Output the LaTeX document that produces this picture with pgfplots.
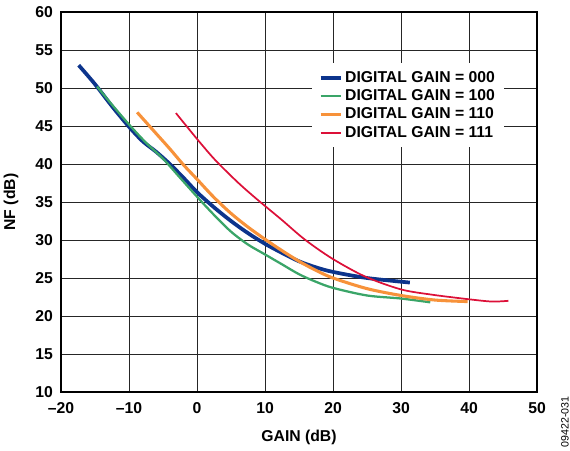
\documentclass[border=0pt]{standalone}
\usepackage{pgfplots}
\pgfplotsset{compat=1.18}
\usepackage{fontspec}
\setmainfont{Liberation Sans}

\definecolor{gnavy}{RGB}{12,52,140}
\definecolor{ggreen}{RGB}{58,165,104}
\definecolor{gorange}{RGB}{247,146,58}
\definecolor{gred}{RGB}{220,16,56}

\newcommand{\lblfont}{\bfseries\fontsize{11.8}{14}\selectfont}

\begin{document}
\begin{tikzpicture}
\useasboundingbox (-45.75pt,-43.5pt) rectangle (381.75pt,294pt);
\begin{axis}[
    scale only axis,
    width=357pt, height=285pt,
    xmin=-20, xmax=50, ymin=10, ymax=60,
    xtick={-20,-10,0,10,20,30,40,50},
    xticklabels={\textendash20,\textendash10,0,10,20,30,40,50},
    ytick={10,15,20,25,30,35,40,45,50,55,60},
    grid=major,
    major grid style={black!85, line width=0.75pt},
    axis line style={line width=1.4pt},
    major tick length=0pt,
    /pgf/number format/assume math mode=true,
    tick label style={font=\lblfont},
    xticklabel style={yshift=-4.3pt},
    yticklabel style={xshift=-2.5pt},
    xlabel={GAIN (dB)},
    ylabel={NF (dB)},
    label style={font=\lblfont},
    xlabel style={at={(axis description cs:0.5,0)}, anchor=center, yshift=-33.75pt},
    ylabel style={at={(axis description cs:0,0.5)}, anchor=center, yshift=37.5pt},
    legend style={at={(0.527,0.866)}, anchor=north west, draw=none, fill=white,
        font=\lblfont, inner xsep=5pt, inner ysep=4pt, row sep=0pt},
    legend cell align=left,
    legend image code/.code={\draw[#1] (0pt,0pt) -- (15pt,0pt);},
]
\addplot[gnavy, line width=2.8pt, smooth, tension=0.5] coordinates {
    (-17.4,53.0) (-15,50.5) (-12.5,47.6) (-10,44.9) (-8,43.0)
    (-6,41.6) (-4,40.0) (-2,38.2) (0,36.3) (2.5,34.3)
    (5,32.5) (7.5,30.9) (10,29.5) (12.5,28.3) (15,27.2)
    (17.5,26.4) (20,25.8) (25,25.0) (31.3,24.4)
};
\addlegendentry{DIGITAL GAIN = 000}
\addplot[ggreen, line width=1.7pt, smooth, tension=0.5] coordinates {
    (-14.7,50.2) (-12.5,47.8) (-10,45.2) (-7.5,42.8) (-5,40.7)
    (-2.5,38.2) (0,35.7) (2.5,33.3) (5,31.1) (7.5,29.4)
    (10,28.1) (12.5,26.8) (15,25.5) (17.5,24.5) (20,23.7)
    (25,22.7) (30,22.3) (34.3,21.8)
};
\addlegendentry{DIGITAL GAIN = 100}
\addplot[gorange, line width=2.3pt, smooth, tension=0.5] coordinates {
    (-8.8,46.8) (-6,44.0) (-4,42.0) (-2,39.9) (0,38.0)
    (2.5,35.6) (5,33.5) (7.5,31.7) (10,30.1) (12.5,28.6)
    (15,27.2) (17.5,26.0) (20,25.0) (25,23.6) (30,22.7)
    (35,22.1) (39.8,21.9)
};
\addlegendentry{DIGITAL GAIN = 110}
\addplot[gred, line width=1.3pt, smooth, tension=0.5] coordinates {
    (-3.1,46.7) (0,43.3) (2.7,40.5) (6.1,37.5) (8.9,35.3)
    (12.4,32.7) (15.8,30.1) (19.8,27.6) (24.7,25.2) (30,23.5)
    (34.6,22.8) (40,22.2) (43.4,21.9) (45.8,22.0)
};
\addlegendentry{DIGITAL GAIN = 111}
\end{axis}
\node[rotate=90, font=\fontsize{8}{9}\selectfont] at (378pt,-22.5pt) {09422-031};
\end{tikzpicture}
\end{document}
